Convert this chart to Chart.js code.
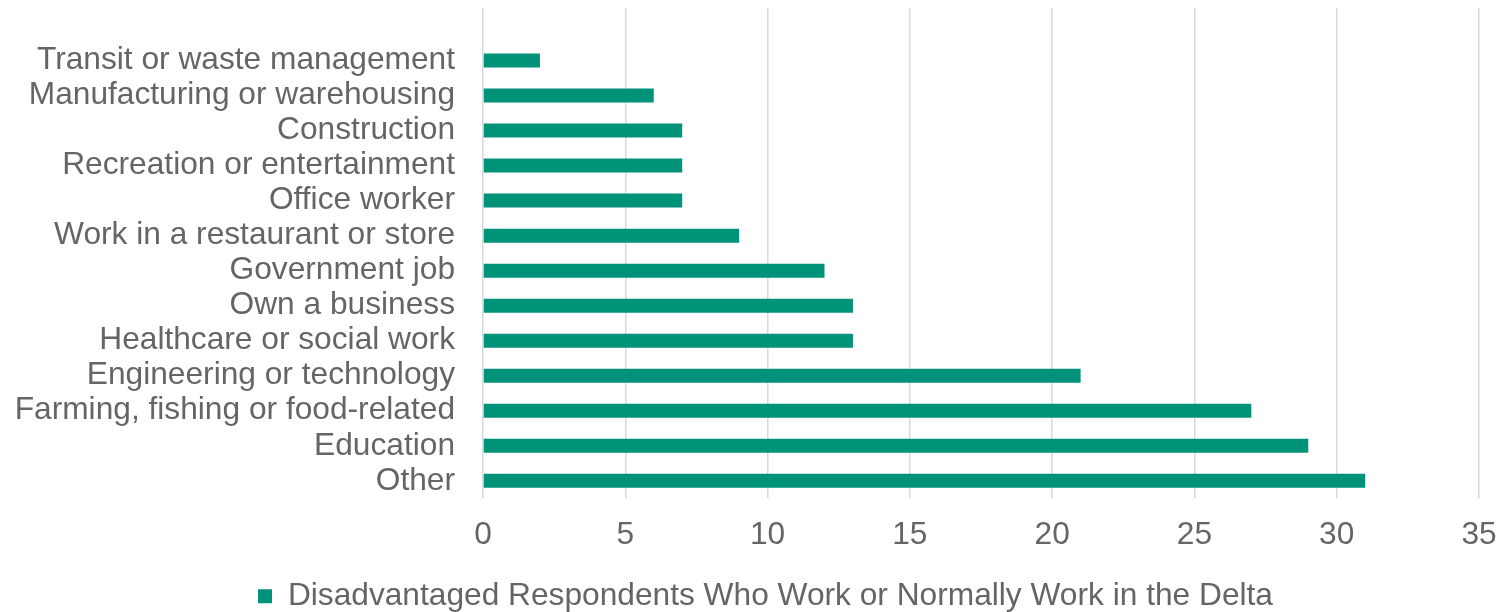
<!DOCTYPE html>
<html>
<head>
<meta charset="utf-8">
<script src="https://cdn.jsdelivr.net/npm/chart.js@4"></script>
<style>
  html, body { margin: 0; padding: 0; background: #fff; }
  #wrap { width: 1509px; height: 612px; }
</style>
</head>
<body>
<div id="wrap"><canvas id="jobs-chart"></canvas></div>
<script>
// occupation categories, top to bottom (first row is a blank spacer row)
const categories = [
    '',
    'Transit or waste management',
    'Manufacturing or warehousing',
    'Construction',
    'Recreation or entertainment',
    'Office worker',
    'Work in a restaurant or store',
    'Government job',
    'Own a business',
    'Healthcare or social work',
    'Engineering or technology',
    'Farming, fishing or food-related',
    'Education',
    'Other'
];
const respondents = [null, 2, 6, 7, 7, 7, 9, 12, 13, 13, 21, 27, 29, 31];
const seriesName = 'Disadvantaged Respondents Who Work or Normally Work in the Delta';
const xTicks = [0, 5, 10, 15, 20, 25, 30, 35];

const textColor = '#656565';
const barColor = '#00937A';
const fontFamily = 'Arial, "Liberation Sans", sans-serif';
const fontSize = 31.7;

Chart.defaults.font.family = fontFamily;
Chart.defaults.color = textColor;

// nudge the legend so it sits centred under the whole canvas
const legendShift = {
    id: 'legendShift',
    afterLayout(chart) {
        const lg = chart.legend;
        if (!lg) return;
        lg.left += 26;
        lg.right += 26;
    }
};

const ctx = document.getElementById('jobs-chart').getContext('2d');
new Chart(ctx, {
    type: 'bar',
    data: {
        labels: categories,
        datasets: [{
            label: seriesName,
            data: respondents,
            backgroundColor: barColor,
            borderWidth: 0,
            barPercentage: 1,
            categoryPercentage: 0.4
        }]
    },
    options: {
        indexAxis: 'y',
        responsive: true,
        maintainAspectRatio: false,
        animation: false,
        layout: {
            padding: { top: 8, right: 30, left: 0, bottom: -10 }
        },
        plugins: {
            legend: {
                position: 'bottom',
                labels: {
                    boxWidth: 14,
                    boxHeight: 14,
                    padding: 6,
                    color: textColor,
                    font: { size: fontSize, lineHeight: 1 }
                }
            },
            tooltip: { enabled: false }
        },
        scales: {
            x: {
                min: 0,
                max: 35,
                afterBuildTicks: axis => {
                    axis.ticks = xTicks.map(v => ({ value: v }));
                },
                afterFit: axis => {
                    axis.height = 76;
                    axis.paddingLeft = 0;
                    axis.paddingRight = 0;
                },
                grid: {
                    color: '#d9d9d9',
                    lineWidth: 1.5,
                    drawTicks: false
                },
                border: { display: false },
                ticks: {
                    padding: 18,
                    color: textColor,
                    font: { size: fontSize }
                }
            },
            y: {
                grid: { display: false, drawTicks: false },
                border: { display: false },
                afterFit: axis => {
                    // label column ends 28px left of the zero line
                    axis.width = 483;
                    axis.paddingTop = 0;
                    axis.paddingBottom = 0;
                },
                ticks: {
                    padding: 28,
                    autoSkip: false,
                    color: textColor,
                    font: { size: fontSize }
                }
            }
        }
    },
    plugins: [legendShift]
});
</script>
</body>
</html>
